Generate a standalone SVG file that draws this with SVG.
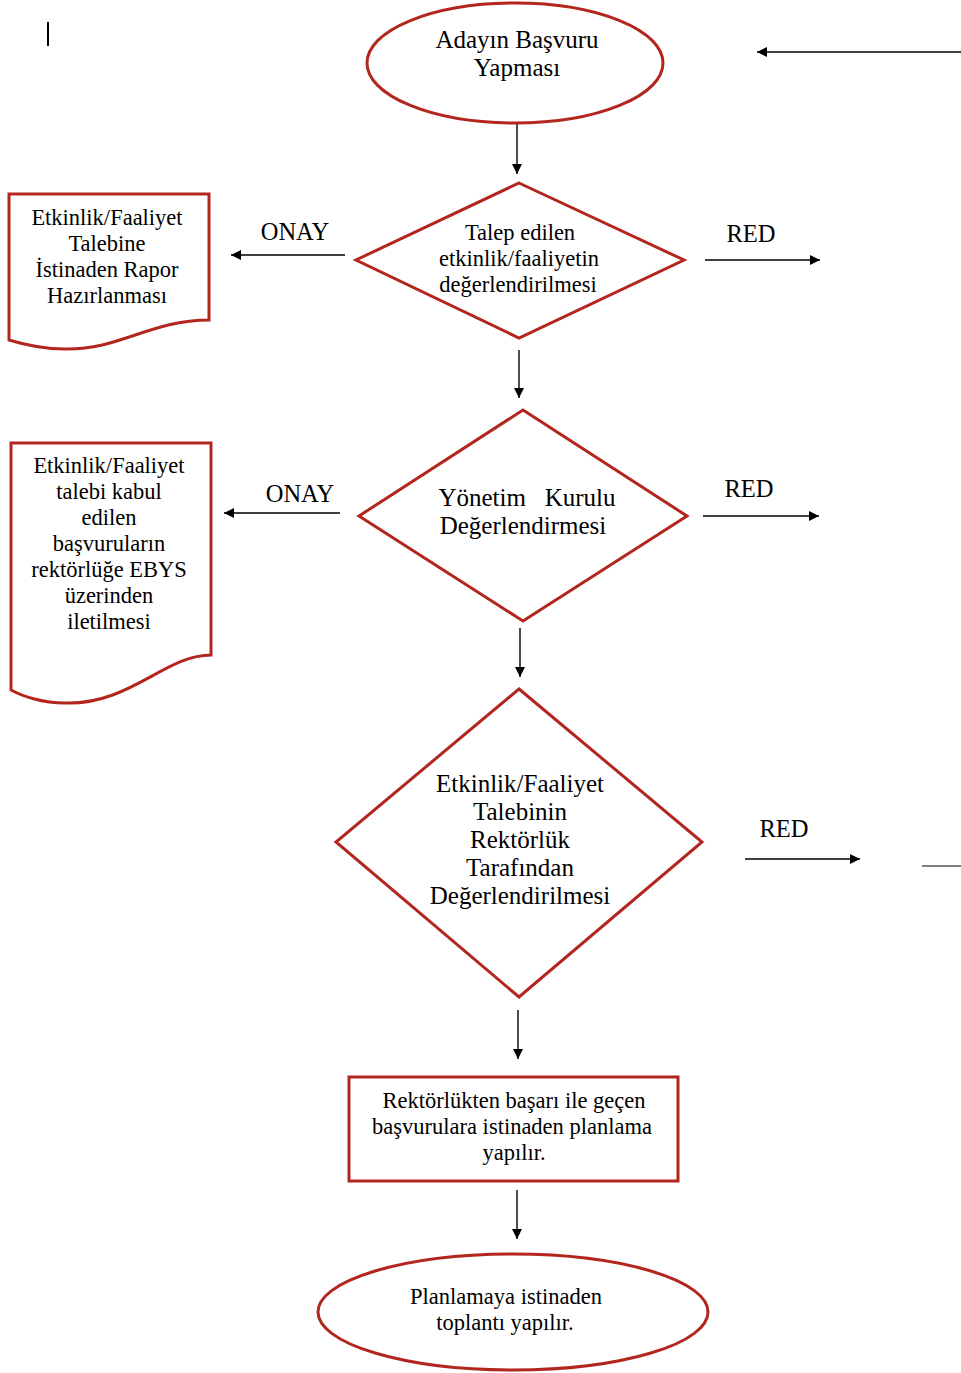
<svg xmlns="http://www.w3.org/2000/svg" width="961" height="1373" viewBox="0 0 961 1373">
<style>
.shape{fill:#fff;stroke:#b3261e;stroke-width:3}
.conn{stroke:#000;stroke-width:1.4;fill:none}
text{font-family:"Liberation Serif","Times New Roman",serif;fill:#000;text-anchor:middle}
.t22{font-size:22.5px}
.t25{font-size:25px}
.lbl{font-size:24.5px}
</style>
<defs>
<marker id="ah" viewBox="0 0 10 10" refX="10" refY="5" markerWidth="10" markerHeight="10" markerUnits="userSpaceOnUse" orient="auto">
<path d="M0,0 L10,5 L0,10 Z" fill="#000"/>
</marker>
</defs>
<rect width="961" height="1373" fill="#fff"/>
<line x1="48" y1="22" x2="48" y2="46" stroke="#000" stroke-width="2"/>

<g id="connectors">
<line class="conn" x1="961" y1="52" x2="757" y2="52" marker-end="url(#ah)"/>
<line class="conn" x1="517" y1="124" x2="517" y2="174" marker-end="url(#ah)"/>
<line class="conn" x1="345" y1="255" x2="231" y2="255" marker-end="url(#ah)"/>
<line class="conn" x1="705" y1="260" x2="820" y2="260" marker-end="url(#ah)"/>
<line class="conn" x1="519" y1="350" x2="519" y2="398" marker-end="url(#ah)"/>
<line class="conn" x1="340" y1="513" x2="224" y2="513" marker-end="url(#ah)"/>
<line class="conn" x1="703" y1="516" x2="819" y2="516" marker-end="url(#ah)"/>
<line class="conn" x1="520" y1="628" x2="520" y2="677" marker-end="url(#ah)"/>
<line class="conn" x1="745" y1="859" x2="860" y2="859" marker-end="url(#ah)"/>
<line x1="922" y1="866" x2="961" y2="866" stroke="#555" stroke-width="1.4"/>
<line class="conn" x1="518" y1="1010" x2="518" y2="1059" marker-end="url(#ah)"/>
<line class="conn" x1="517" y1="1190" x2="517" y2="1239" marker-end="url(#ah)"/>
<text class="lbl" x="295" y="240">ONAY</text>
<text class="lbl" x="751" y="242">RED</text>
<text class="lbl" x="300" y="502">ONAY</text>
<text class="lbl" x="749" y="497">RED</text>
<text class="lbl" x="784" y="837">RED</text>
</g>

<g id="start">
<ellipse class="shape" cx="515" cy="63" rx="148" ry="60"/>
<text class="t25" x="517" y="48">Adayın Başvuru</text>
<text class="t25" x="517" y="76">Yapması</text>
</g>

<g id="decision1">
<polygon class="shape" points="519,183 684,260 519,338 356,260"/>
<text class="t22" x="520" y="240">Talep edilen</text>
<text class="t22" x="519" y="266">etkinlik/faaliyetin</text>
<text class="t22" x="518" y="292">değerlendirilmesi</text>
</g>

<g id="doc1">
<path class="shape" d="M9,194 H209 V320 C150,320 120,350 65,349 C42,349 22,344 9,340 Z"/>
<text class="t22" x="107" y="225">Etkinlik/Faaliyet</text>
<text class="t22" x="107" y="251">Talebine</text>
<text class="t22" x="107" y="277">İstinaden Rapor</text>
<text class="t22" x="107" y="303">Hazırlanması</text>
</g>

<g id="decision2">
<polygon class="shape" points="523,410 687,516 523,621 359,516"/>
<text class="t25" x="527" y="506" xml:space="preserve">Yönetim   Kurulu</text>
<text class="t25" x="523" y="534">Değerlendirmesi</text>
</g>

<g id="doc2">
<path class="shape" d="M11,443 H211 V655 C165,655 130,705 65,703 C42,703 22,696 11,690 Z"/>
<text class="t22" x="109" y="473">Etkinlik/Faaliyet</text>
<text class="t22" x="109" y="499">talebi kabul</text>
<text class="t22" x="109" y="525">edilen</text>
<text class="t22" x="109" y="551">başvuruların</text>
<text class="t22" x="109" y="577">rektörlüğe EBYS</text>
<text class="t22" x="109" y="603">üzerinden</text>
<text class="t22" x="109" y="629">iletilmesi</text>
</g>

<g id="decision3">
<polygon class="shape" points="519,689 702,842 519,997 336,842"/>
<text class="t25" x="520" y="792">Etkinlik/Faaliyet</text>
<text class="t25" x="520" y="820">Talebinin</text>
<text class="t25" x="520" y="848">Rektörlük</text>
<text class="t25" x="520" y="876">Tarafından</text>
<text class="t25" x="520" y="904">Değerlendirilmesi</text>
</g>

<g id="process">
<rect class="shape" x="349" y="1077" width="329" height="104"/>
<text class="t22" x="514" y="1108">Rektörlükten başarı ile geçen</text>
<text class="t22" x="512" y="1134">başvurulara istinaden planlama</text>
<text class="t22" x="514" y="1160">yapılır.</text>
</g>

<g id="end">
<ellipse class="shape" cx="513" cy="1312" rx="195" ry="58"/>
<text class="t22" x="506" y="1304">Planlamaya istinaden</text>
<text class="t22" x="505" y="1330">toplantı yapılır.</text>
</g>
</svg>
